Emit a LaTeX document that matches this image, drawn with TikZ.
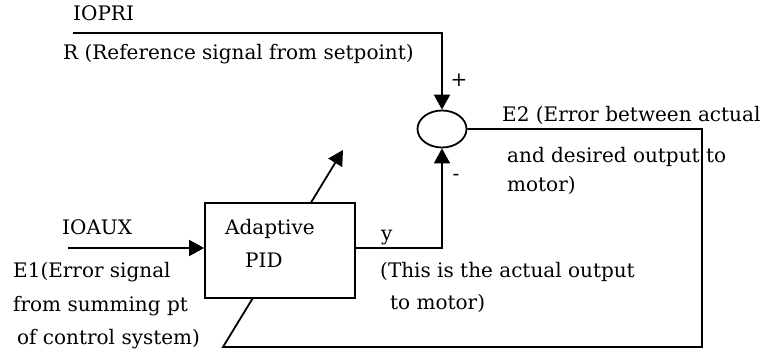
\documentclass[tikz,border=0pt]{standalone}
\usepackage{fontspec}
\setmainfont{DejaVu Serif}
\usetikzlibrary{arrows.meta,shapes.geometric}
\definecolor{pidLine}{RGB}{0,0,0}

\begin{document}
\begin{tikzpicture}[x=1pt, y=1pt,
  pidText/.style={anchor=base west, inner sep=0pt, font=\fontsize{20}{24}\selectfont},
  pidSign/.style={inner sep=0pt, font=\fontsize{20}{24}\selectfont},
  pidWire/.style={line width=1.8pt, draw=pidLine},
  pidArrow/.style={pidWire, -{Triangle[length=15pt,width=16pt]}},
  pidBox/.style={line width=1.8pt, draw=pidLine, fill=white, minimum width=150pt, minimum height=95pt, inner sep=0pt},
  pidSum/.style={ellipse, line width=1.8pt, draw=pidLine, minimum width=49pt, minimum height=37pt, inner sep=0pt}]
  \useasboundingbox (0,0) rectangle (762,358);
  \node[pidSum] (sum) at (442,229) {};
  \coordinate (ref) at (73,325);
  \coordinate (aux) at (68,110);
  \coordinate (fbRight) at (702,11);
  \coordinate (fbLeft) at (223,11);
  \coordinate (adapt) at (343,208);
  \draw[pidArrow] (sum.east) -| (fbRight) -- (fbLeft) -- (adapt);
  \node[pidBox] (pid) at (280,107.5) {};
  \draw[pidArrow] (ref) -| (sum.north);
  \draw[pidArrow] (aux) -- (aux -| pid.west);
  \draw[pidArrow] (pid.east |- aux) -| (sum.south);
  \node[pidText] (iopri) at (73,337) {IOPRI};
  \node[pidText] (refLbl) at (63,298) {R (Reference signal from setpoint)};
  \node[pidSign] (plus) at (459,278) {+};
  \node[pidSign] (minus) at (456,181) {-};
  \node[pidText] (errTwoA) at (502,236) {E2 (Error between actual};
  \node[pidText] (errTwoB) at (507,195) {and desired output to};
  \node[pidText] (errTwoC) at (507,166) {motor)};
  \node[pidText] (yLbl) at (381,117) {y};
  \node[pidText] (outA) at (380,80) {(This is the actual output};
  \node[pidText] (outB) at (390,48) {to motor)};
  \node[pidText] (pidA) at (225,123) {Adaptive};
  \node[pidText] (pidB) at (245,90) {PID};
  \node[pidText] (ioaux) at (62,123) {IOAUX};
  \node[pidText] (errOneA) at (13,80) {E1(Error signal};
  \node[pidText] (errOneB) at (13,46) {from summing pt};
  \node[pidText] (errOneC) at (17,13) {of control system)};
\end{tikzpicture}
\end{document}
